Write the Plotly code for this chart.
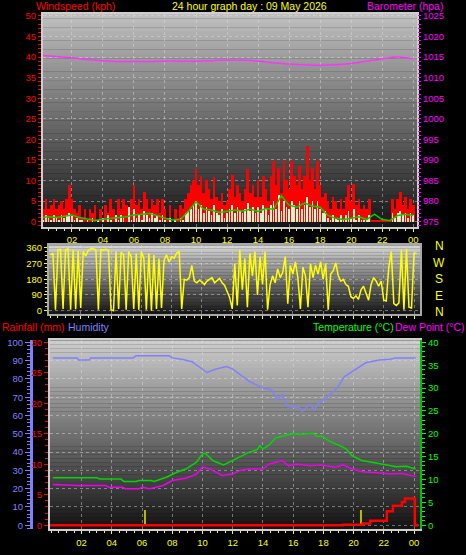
import plotly.graph_objects as go

W, H = 466, 555

# ---------------- data ----------------
hour_ticks = [2, 4, 6, 8, 10, 12, 14, 16, 18, 20, 22, 24]
hour_labels = ["02", "04", "06", "08", "10", "12", "14", "16", "18", "20", "22", "00"]

# wind gust (kph), 10-minute samples from 00:00
gust_kph = [
    4, 3, 5.5, 3, 4, 5.5,
    3, 4, 5, 3, 5.5, 9,
    5.5, 3, 2, 4, 1, 3,
    0.5, 3, 2, 4, 0, 3,
    1, 4, 2, 5.5, 3, 0,
    5.5, 3, 5.5, 4, 2, 5.5,
    9, 4, 5.5, 3, 7.3, 5.5,
    3, 5.5, 4, 5.5, 2, 5.5,
    3, 1, 4, 0, 3, 1,
    4, 3, 5.5, 7, 9, 10,
    12.8, 9, 11, 7, 10, 8,
    5.5, 10.8, 6, 5, 7, 4,
    5, 8, 11.3, 6, 9, 7,
    5, 8, 12.7, 7, 9, 6,
    10, 6, 11, 8, 5, 11,
    14.8, 9, 13, 7, 14.8, 10,
    8, 14.8, 11, 9, 13.5, 8,
    11, 18.5, 10, 13, 8, 14.8,
    9, 6, 7, 5, 3, 6,
    5, 3, 5.5, 3, 6, 9,
    5, 9.2, 4, 5.5, 3, 4,
    3, 5.5, 0.5, 0.5, 0.5, 0.5,
    0.5, 0.5, 0.5, 0.5, 5.5, 3,
    5.5, 7.2, 4, 6, 3, 5.5,
    4,
]

# wind speed (kph), 10-minute samples
wind_kph = [
    1.5, 0.5, 1.5, 1, 0.3, 1.5,
    1, 0.5, 1.5, 1, 1.5, 2,
    1.5, 0.5, 1, 0.3, 0.5, 0,
    0.5, 0, 1, 0, 0.5, 0,
    1, 0, 1.5, 0.5, 0, 1.5,
    0.5, 1.5, 1, 0, 3.5, 0.5,
    3, 1, 1.5, 0.5, 2.5, 1.5,
    1, 2, 1, 1.5, 0.3, 1.5,
    0.5, 0, 1, 0, 0.5, 0,
    1, 0.5, 2, 2.5, 3, 4,
    5, 3, 4, 2, 3.5, 2.5,
    1.5, 4, 2, 1.5, 3, 1,
    2, 3, 4, 2, 3.5, 2.5,
    2, 3, 4.5, 2.5, 3.5, 2,
    3.5, 2, 4, 3, 1.5, 4,
    5, 3, 6.5, 2.5, 5, 3.5,
    3, 5, 4, 3, 5, 3,
    4, 6, 3.5, 5, 3, 5,
    3, 2, 2.5, 1, 0.5, 1.5,
    1, 0.3, 1.5, 0.5, 1.5, 2.5,
    1, 3, 0.5, 1.5, 0.3, 0.5,
    0.3, 1.5, 0, 0, 0, 0,
    0, 0, 0, 0, 2, 1,
    2, 2.5, 1.5, 2, 1, 2,
    1.5,
]

# average wind speed (kph), 30-minute samples
avg_wind_kph = [
    1.0, 1.2, 1.0, 1.3, 1.6, 1.0, 0.6, 0.3, 0.6, 0.8, 1.0, 1.2,
    1.6, 1.8, 2.0, 1.5, 0.8, 0.4, 0.5, 2.5, 4.8, 3.0, 2.8, 2.2,
    2.5, 2.8, 2.6, 3.0, 2.5, 3.2, 3.0, 6.3, 4.0, 3.5, 4.5, 3.8,
    3.5, 1.5, 0.8, 0.5, 0.8, 1.2, 0.5, 1.8, 0.5, 0.3, 1.5, 1.8,
    1.5,
]

# barometer (hPa), hourly
baro_hpa = [
    1015.4, 1015.1, 1014.8, 1014.4, 1014.1, 1013.9, 1013.9, 1013.9,
    1014.0, 1014.0, 1014.0, 1014.1, 1014.3, 1014.2, 1014.0, 1013.6,
    1013.3, 1013.1, 1013.0, 1013.1, 1013.4, 1014.0, 1014.6, 1015.0,
    1014.6,
]

# wind direction (degrees), 10-minute samples
wind_dir_deg = [
    320, 330, 5, 350, 352, 10, 350, 355, 5, 350, 8, 345,
    15, 340, 315, 345, 355, 355, 350, 5, 350, 348, 352, 345,
    5, 0, 340, 10, 335, 320, 5, 340, 310, 10, 330, 5,
    340, 300, 5, 330, 0, 320, 10, 300, 15, 290, 320, 280,
    310, 300, 330, 340, 10, 180, 175, 190, 260, 170, 160, 175,
    165, 150, 170, 180, 190, 160, 175, 185, 160, 145, 110, 75,
    10, 270, 30, 350, 120, 300, 20, 330, 200, 340, 90, 310,
    150, 340, 5, 150, 200, 160, 240, 190, 220, 310, 40, 260,
    210, 280, 190, 10, 250, 200, 20, 270, 190, 260, 210, 280,
    180, 270, 5, 210, 230, 275, 200, 170, 180, 150, 140, 80,
    70, 85, 65, 120, 140, 100, 60, 150, 190, 170, 140, 170,
    60, 55, 250, 340, 40, 30, 45, 350, 5, 355, 20, 15,
    330, 330,
]

# humidity (%)
hum_hours = [0.1, 1.7, 1.8, 2.5, 2.6, 5.4, 5.6, 7.8, 8.0, 8.7, 9.3, 9.6, 10.3,
             10.9, 11.6, 12.0, 12.5, 13.1, 14.0, 14.6, 14.9, 15.3, 15.6, 16.4,
             16.6, 17.1, 17.4, 17.7, 18.2, 18.9, 19.4, 19.9, 20.8, 21.7, 22.4,
             22.8, 24.1]
hum_pct = [91.5, 91.5, 90.3, 90.3, 91.5, 91.5, 92.6, 92.6, 91.5, 90.6, 89.4, 87.6,
           83.5, 85.4, 86.8, 85.4, 82.2, 78.6, 75.0, 74.0, 68.6, 71.4, 65.0, 64.1,
           62.3, 66.0, 63.2, 66.8, 69.5, 75.0, 81.3, 84.0, 88.8, 90.3, 90.8,
           91.5, 91.5]

# temperature (C)
temp_hours = [0.1, 3.0, 3.2, 4.6, 4.8, 5.6, 5.8, 6.6, 6.8, 7.6, 8.3, 8.9, 9.6,
              10.0, 10.2, 10.7, 11.4, 12.0, 12.5, 13.1, 13.6, 13.8, 14.0, 14.4,
              14.8, 15.3, 16.0, 16.6, 17.3, 17.6, 17.9, 18.4, 19.1, 19.5, 19.9,
              20.6, 21.5, 22.4, 22.8, 23.5, 24.1]
temp_c = [10.4, 10.4, 10.1, 10.1, 9.6, 9.6, 9.8, 9.8, 9.6, 10.5, 11.6, 12.3, 13.8,
          15.6, 15.7, 14.1, 13.2, 14.2, 14.9, 16.0, 16.5, 17.4, 16.7, 17.5,
          19.0, 19.5, 20.0, 19.9, 20.1, 19.4, 19.5, 18.4, 17.4, 16.7, 15.2,
          14.1, 13.6, 13.0, 12.8, 12.9, 12.3]

# dew point (C)
dew_hours = [0.1, 1.7, 3.6, 3.8, 4.7, 4.9, 5.8, 6.0, 6.5, 7.4, 8.0, 8.9, 9.6,
             10.0, 10.5, 11.3, 12.0, 12.5, 13.1, 14.0, 14.4, 15.3, 15.7, 16.2,
             17.1, 17.9, 18.8, 19.3, 19.9, 20.6, 21.5, 22.4, 23.2, 24.1]
dew_c = [8.9, 8.7, 8.7, 8.3, 8.3, 8.0, 8.0, 8.3, 8.0, 8.7, 9.8, 10.3, 11.2,
         12.8, 12.3, 10.9, 11.2, 12.0, 12.3, 12.3, 13.4, 14.1, 13.0, 13.4,
         13.0, 13.2, 12.7, 13.2, 12.3, 11.7, 11.5, 11.2, 11.3, 10.7]

# cumulative rainfall (mm)
rain_hours = [-0.1, 19.3, 20.6, 21.1, 22.0, 22.2, 22.6, 23.2, 23.4, 24.05, 24.3]
rain_mm = [0, 0.1, 0.3, 0.75, 0.75, 2.3, 3.2, 3.8, 4.4, 0, 0]

# rain rate marks
rate_hours = [6.2, 20.5]
rate_mm = [2.5, 2.5]

ten_min = [i / 6 for i in range(len(gust_kph))]
half_hour = [i / 2 for i in range(len(avg_wind_kph))]
hourly = list(range(len(baro_hpa)))
dir_times = [i / 6 for i in range(len(wind_dir_deg))]

# ---------------- figure ----------------
FONT = "Liberation Sans, Arial, sans-serif"
GRID = "rgba(225,225,225,0.45)"

fig = go.Figure()

fig.add_trace(go.Bar(x=ten_min, y=gust_kph, width=1 / 6, marker=dict(color="#ff0000", line_width=0),
                     xaxis="x", yaxis="y", showlegend=False))
fig.add_trace(go.Bar(x=ten_min, y=wind_kph, width=0.11, marker=dict(color="#d2f5d2", line_width=0),
                     xaxis="x", yaxis="y", showlegend=False))
fig.add_trace(go.Scatter(x=half_hour, y=avg_wind_kph, mode="lines", line=dict(color="#00d000", width=1.5),
                         xaxis="x", yaxis="y", showlegend=False))
fig.add_trace(go.Scatter(x=hourly, y=baro_hpa, mode="lines", line=dict(color="#ff33ff", width=1.5, shape="spline"),
                         xaxis="x", yaxis="y2", showlegend=False))

fig.add_trace(go.Scatter(x=dir_times, y=wind_dir_deg, mode="lines", line=dict(color="#ffff00", width=1.5),
                         xaxis="x2", yaxis="y3", showlegend=False))

fig.add_trace(go.Bar(x=rate_hours, y=rate_mm, width=0.13, marker=dict(color="#b8b800", line_width=0),
                     xaxis="x3", yaxis="y4", showlegend=False))
fig.add_trace(go.Scatter(x=rain_hours, y=rain_mm, mode="lines", line=dict(color="#ff0000", width=2.5, shape="hv"),
                         xaxis="x3", yaxis="y4", showlegend=False))
fig.add_trace(go.Scatter(x=hum_hours, y=hum_pct, mode="lines", line=dict(color="#8080ff", width=1.5),
                         xaxis="x3", yaxis="y5", showlegend=False))
fig.add_trace(go.Scatter(x=temp_hours, y=temp_c, mode="lines", line=dict(color="#00d800", width=1.5),
                         xaxis="x3", yaxis="y6", showlegend=False))
fig.add_trace(go.Scatter(x=dew_hours, y=dew_c, mode="lines", line=dict(color="#ee00ee", width=1.5),
                         xaxis="x3", yaxis="y6", showlegend=False))

# gradient backgrounds
shapes = []


def gradient(x0, x1, y0, y1, top, bottom, n=48):
    for k in range(n):
        t = (k + 0.5) / n
        c = round(top + (bottom - top) * t)
        shapes.append(dict(type="rect", xref="paper", yref="paper",
                           x0=x0 / W, x1=x1 / W,
                           y0=1 - (y0 + (y1 - y0) * k / n) / H,
                           y1=1 - (y0 + (y1 - y0) * (k + 1) / n) / H - 0.0005,
                           fillcolor=f"rgb({c},{c},{c})", line_width=0, layer="below"))


gradient(43, 418, 10, 225, 192, 22)
gradient(49, 421, 244, 313, 212, 22)
gradient(50, 421, 340, 531, 205, 18)


def ax_font(color):
    return dict(family=FONT, size=9.5, color=color)


xbase = dict(range=[-0.1, 24.4], tickmode="array", tickvals=hour_ticks, ticktext=hour_labels,
             tickfont=ax_font("#ffff00"), ticks="outside", ticklen=3, tickcolor="#ffff00",
             showgrid=True, gridcolor=GRID, griddash="dot", gridwidth=1,
             showline=True, linecolor="#cfcfcf", linewidth=2, mirror=True, zeroline=False,
             minor=dict(ticks="outside", ticklen=2, tickcolor="#ffff00", dtick=0.5, tick0=0, showgrid=False))

layout = dict(
    width=W, height=H, margin=dict(l=0, r=0, t=0, b=0),
    paper_bgcolor="#000000", plot_bgcolor="rgba(0,0,0,0)",
    barmode="overlay", bargap=0, showlegend=False,
    font=dict(family=FONT),
    shapes=shapes,
    xaxis=dict(xbase, domain=[43 / W, 418 / W], anchor="y", range=[0.13, 24.25]),
    yaxis=dict(domain=[1 - 225 / H, 1 - 10 / H], anchor="x", range=[-1.2, 50.48],
               tickmode="array", tickvals=list(range(0, 51, 5)), tickfont=ax_font("#ff0000"),
               ticks="outside", ticklen=3, tickcolor="#ff0000",
               minor=dict(ticks="outside", ticklen=3, tickcolor="#ff0000", dtick=1, tick0=0, showgrid=False),
               showgrid=True, gridcolor=GRID, griddash="dot", zeroline=False,
               showline=True, linecolor="#cfcfcf", linewidth=2, mirror=True),
    yaxis2=dict(overlaying="y", side="right", anchor="x", range=[973.8, 1025.48],
                tickmode="array", tickvals=list(range(975, 1026, 5)), tickfont=ax_font("#ff00ff"),
                ticks="outside", ticklen=3, tickcolor="#ff00ff",
                minor=dict(ticks="outside", ticklen=3, tickcolor="#ff00ff", dtick=1, tick0=975, showgrid=False),
                showgrid=False, zeroline=False),
    xaxis2=dict(xbase, domain=[49 / W, 421 / W], anchor="y3", showticklabels=False,
                linecolor="#a8a8a8"),
    yaxis3=dict(domain=[1 - 313 / H, 1 - 244 / H], anchor="x2", range=[-17, 375],
                tickmode="array", tickvals=[0, 90, 180, 270, 360], tickfont=ax_font("#ffff00"),
                ticks="outside", ticklen=3, tickcolor="#ffff00",
                minor=dict(ticks="outside", ticklen=2, tickcolor="#ffff00", dtick=22.5, tick0=0, showgrid=False),
                showgrid=True, gridcolor=GRID, griddash="dot", zeroline=False,
                showline=True, linecolor="#a8a8a8", linewidth=2, mirror=True),
    xaxis3=dict(xbase, domain=[50 / W, 421 / W], anchor="y4"),
    yaxis4=dict(domain=[1 - 531 / H, 1 - 340 / H], anchor="x3", range=[-0.65, 30.32],
                tickmode="array", tickvals=list(range(0, 31, 5)), tickfont=ax_font("#ff0000"),
                ticks="outside", ticklen=4, tickcolor="#ff0000",
                minor=dict(ticks="outside", ticklen=3, tickcolor="#ff0000", dtick=1, tick0=0, showgrid=False),
                showgrid=False, zeroline=False,
                showline=True, linecolor="#cfcfcf", linewidth=2, mirror=True),
    yaxis5=dict(overlaying="y4", anchor="free", position=31 / W, side="left", range=[-2.2, 101.1],
                tickmode="array", tickvals=list(range(0, 101, 10)), tickfont=ax_font("#8080ff"),
                ticks="outside", ticklen=5, tickcolor="#8080ff",
                minor=dict(ticks="outside", ticklen=3, tickcolor="#8080ff", dtick=2, tick0=0, showgrid=False),
                showgrid=True, gridcolor=GRID, griddash="dot", zeroline=False,
                showline=True, linecolor="#8080ff", linewidth=3),
    yaxis6=dict(overlaying="y4", anchor="x3", side="right", range=[-0.86, 40.43],
                tickmode="array", tickvals=list(range(0, 41, 5)), tickfont=ax_font("#00ff00"),
                ticks="outside", ticklen=4, tickcolor="#00ff00",
                minor=dict(ticks="outside", ticklen=3, tickcolor="#00ff00", dtick=1, tick0=0, showgrid=False),
                showgrid=False, zeroline=False,
                showline=True, linecolor="#00c000", linewidth=2),
)


def note(text, x, y, color, xanchor="left", size=10.5):
    return dict(text=text, x=x / W, y=1 - y / H, xref="paper", yref="paper",
                xanchor=xanchor, yanchor="middle", showarrow=False,
                font=dict(family=FONT, size=size, color=color))


annotations = [
    note("Windspeed (kph)", 34, 2, "#ff0000"),
    note("24 hour graph day : 09 May 2026", 250, 2, "#ffff00", xanchor="center"),
    note("Barometer (hpa)", 446, 2, "#ff00ff", xanchor="right"),
    note("Rainfall (mm)", 0, 327, "#ff0000"),
    note("Humidity", 66, 327, "#8080ff"),
    note("Temperature (°C)", 312, 327, "#00ff00"),
    note("Dew Point (°C)", 394, 327, "#ff00ff"),
]
for lbl, yy in zip(["N", "W", "S", "E", "N"], [245, 262, 278, 295, 311]):
    annotations.append(note(lbl, 440, yy, "#ffff00", xanchor="center", size=12))
layout["annotations"] = annotations

fig.update_layout(**layout)
fig.write_html(
    "out.html",
    config={"displayModeBar": False, "staticPlot": True},
    post_script="document.body.style.margin='0';document.body.style.overflow='hidden';",
)
